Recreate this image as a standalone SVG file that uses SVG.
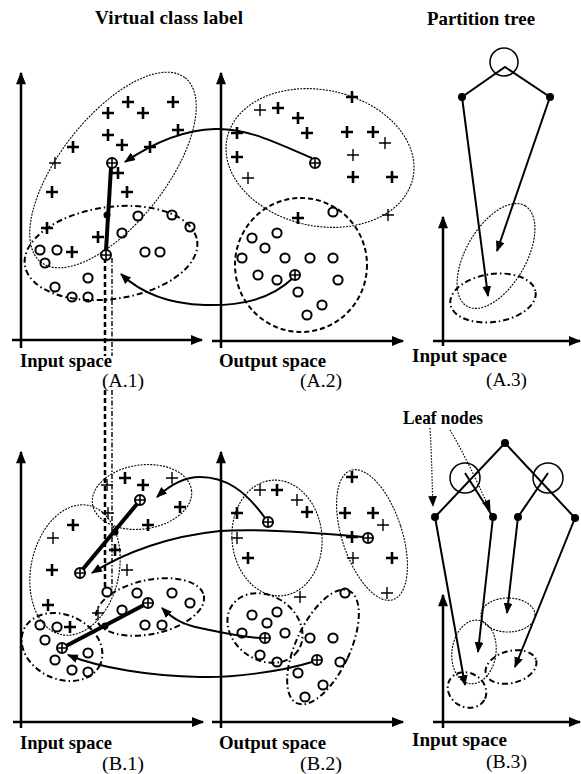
<svg xmlns="http://www.w3.org/2000/svg" xmlns:xlink="http://www.w3.org/1999/xlink" width="581" height="774" viewBox="0 0 581 774">
<style>
.ax{stroke:#000;stroke-width:2.5;fill:none}
.fd{stroke:#000;stroke-width:1.1;fill:none;stroke-dasharray:2 1.2}
.dd{stroke:#000;stroke-width:2;fill:none;stroke-dasharray:6 3 1.5 3}
.da{stroke:#000;stroke-width:2;fill:none;stroke-dasharray:5 3}
.ar{stroke:#000;stroke-width:2;fill:none}
.tk{stroke:#000;stroke-width:4;fill:none}
.dt{stroke:#000;stroke-width:1.2;fill:none;stroke-dasharray:1.5 1.5}
.bt{font-family:"Liberation Serif",serif;font-weight:bold;font-size:19px}
.nt{font-family:"Liberation Serif",serif;font-size:19px}
</style>
<defs>
<marker id="ah" viewBox="0 0 10 8" refX="9" refY="4" markerWidth="11" markerHeight="9" markerUnits="userSpaceOnUse" orient="auto"><path d="M0,0 L10,4 L0,8 z" fill="#000"/></marker>
<marker id="aa" viewBox="0 0 10 8" refX="9" refY="4" markerWidth="13" markerHeight="10" markerUnits="userSpaceOnUse" orient="auto"><path d="M0,0 L10,4 L0,8 z" fill="#000"/></marker>
<g id="p"><path d="M-6,0H6M0,-6V6" stroke="#000" stroke-width="2.6" fill="none"/></g>
<g id="q"><path d="M-6,0H6M0,-6V6" stroke="#000" stroke-width="1.4" fill="none"/></g>
<g id="o"><circle r="4.6" stroke="#000" stroke-width="2" fill="none"/></g>
<g id="x"><circle r="5" stroke="#000" stroke-width="2" fill="#fff"/><path d="M-5,0H5M0,-5V5" stroke="#000" stroke-width="1.6"/></g>
</defs>
<rect width="581" height="774" fill="#fff"/>

<g id="titles">
<text class="bt" x="95" y="24" textLength="148" lengthAdjust="spacing">Virtual class label</text>
<text class="bt" x="427" y="25" textLength="108" lengthAdjust="spacingAndGlyphs">Partition tree</text>
<text class="bt" x="403" y="424" font-size="18" textLength="80" lengthAdjust="spacingAndGlyphs">Leaf nodes</text>
</g>

<g id="axes">
<path class="ax" d="M21,348V73" marker-end="url(#aa)"/><path class="ax" d="M12,340H202" marker-end="url(#aa)"/>
<path class="ax" d="M221,348V73" marker-end="url(#aa)"/><path class="ax" d="M212,341H403" marker-end="url(#aa)"/>
<path class="ax" d="M443,346V217" marker-end="url(#aa)"/><path class="ax" d="M433,341H580" marker-end="url(#aa)"/>
<path class="ax" d="M21,728V452" marker-end="url(#aa)"/><path class="ax" d="M13,722H203" marker-end="url(#aa)"/>
<path class="ax" d="M221,728V452" marker-end="url(#aa)"/><path class="ax" d="M212,722H403" marker-end="url(#aa)"/>
<path class="ax" d="M443,728V595" marker-end="url(#aa)"/><path class="ax" d="M433,722H580" marker-end="url(#aa)"/>
</g>

<g id="labels">
<text class="bt" x="20" y="367" textLength="92" lengthAdjust="spacingAndGlyphs">Input space</text>
<text class="nt" x="102" y="387" textLength="42" lengthAdjust="spacingAndGlyphs">(A.1)</text>
<text class="bt" x="219" y="367" textLength="107" lengthAdjust="spacingAndGlyphs">Output space</text>
<text class="nt" x="300" y="387" textLength="42" lengthAdjust="spacingAndGlyphs">(A.2)</text>
<text class="bt" x="412" y="362" textLength="95" lengthAdjust="spacingAndGlyphs">Input space</text>
<text class="nt" x="486" y="386" textLength="41" lengthAdjust="spacingAndGlyphs">(A.3)</text>
<text class="bt" x="20" y="749" textLength="92" lengthAdjust="spacingAndGlyphs">Input space</text>
<text class="nt" x="102" y="770" textLength="42" lengthAdjust="spacingAndGlyphs">(B.1)</text>
<text class="bt" x="219" y="749" textLength="107" lengthAdjust="spacingAndGlyphs">Output space</text>
<text class="nt" x="300" y="770" textLength="42" lengthAdjust="spacingAndGlyphs">(B.2)</text>
<text class="bt" x="412" y="746" textLength="95" lengthAdjust="spacingAndGlyphs">Input space</text>
<text class="nt" x="486" y="768" textLength="41" lengthAdjust="spacingAndGlyphs">(B.3)</text>
</g>

<g id="ellipses">
<ellipse class="fd" cx="113" cy="170" rx="117" ry="53" transform="rotate(-52 113 170)"/>
<ellipse class="dd" cx="111" cy="253" rx="87" ry="46" transform="rotate(-8 111 253)"/>
<ellipse class="fd" cx="320" cy="158" rx="95" ry="68" transform="rotate(12 320 158)"/>
<ellipse class="da" cx="301" cy="265" rx="66" ry="67"/>
<ellipse class="fd" cx="496" cy="256" rx="58" ry="30" transform="rotate(-60 496 256)"/>
<ellipse class="dd" cx="493" cy="298" rx="43" ry="24" transform="rotate(-8 493 298)"/>
<ellipse class="fd" cx="142" cy="497" rx="50" ry="32" transform="rotate(-8 142 497)"/>
<ellipse class="fd" cx="75" cy="570" rx="44" ry="66" transform="rotate(12 75 570)"/>
<ellipse class="dd" cx="150" cy="607" rx="55" ry="27" transform="rotate(-12 150 607)"/>
<ellipse class="dd" cx="62" cy="647" rx="42" ry="32" transform="rotate(25 62 647)"/>
<ellipse class="fd" cx="277" cy="538" rx="45" ry="58" transform="rotate(-5 277 538)"/>
<ellipse class="fd" cx="372" cy="535" rx="30" ry="68" transform="rotate(-18 372 535)"/>
<ellipse class="dd" cx="265" cy="628" rx="40" ry="32" transform="rotate(35 265 628)"/>
<ellipse class="dd" cx="323" cy="647" rx="27" ry="62" transform="rotate(25 323 647)"/>
<ellipse class="fd" cx="508" cy="615" rx="27" ry="17"/>
<ellipse class="fd" cx="474" cy="652" rx="22" ry="32" transform="rotate(8 474 652)"/>
<ellipse class="dd" cx="511" cy="667" rx="26" ry="16" transform="rotate(-15 511 667)"/>
<ellipse class="dd" cx="467" cy="690" rx="20" ry="17" transform="rotate(30 467 690)"/>
</g>

<g id="points-A1">
<use href="#p" x="128" y="102"/><use href="#p" x="108" y="113"/><use href="#p" x="143" y="113"/><use href="#p" x="173" y="102"/><use href="#p" x="178" y="130"/><use href="#p" x="108" y="135"/><use href="#p" x="122" y="145"/><use href="#p" x="150" y="147"/><use href="#p" x="118" y="173"/><use href="#p" x="127" y="192"/><use href="#p" x="47" y="228"/><use href="#p" x="98" y="237"/><use href="#p" x="72" y="252"/><use href="#p" x="73" y="147"/><use href="#p" x="52" y="192"/>
<use href="#q" x="55" y="163"/>
<use href="#o" x="138" y="216"/><use href="#o" x="172" y="215"/><use href="#o" x="190" y="227"/><use href="#o" x="122" y="233"/><use href="#o" x="145" y="252"/><use href="#o" x="160" y="252"/><use href="#o" x="40" y="250"/><use href="#o" x="57" y="250"/><use href="#o" x="45" y="263"/><use href="#o" x="55" y="287"/><use href="#o" x="88" y="278"/><use href="#o" x="72" y="297"/><use href="#o" x="88" y="297"/>
</g>
<g id="points-A2">
<use href="#p" x="352" y="97"/><use href="#p" x="278" y="108"/><use href="#p" x="298" y="118"/><use href="#p" x="307" y="133"/><use href="#p" x="347" y="132"/><use href="#p" x="373" y="132"/><use href="#p" x="237" y="133"/><use href="#p" x="237" y="157"/><use href="#p" x="353" y="177"/><use href="#p" x="392" y="177"/><use href="#p" x="298" y="218"/>
<use href="#q" x="260" y="110"/><use href="#q" x="385" y="143"/><use href="#q" x="353" y="155"/><use href="#q" x="248" y="178"/><use href="#q" x="388" y="215"/>
<use href="#o" x="333" y="212"/><use href="#o" x="252" y="238"/><use href="#o" x="277" y="233"/><use href="#o" x="265" y="248"/><use href="#o" x="242" y="258"/><use href="#o" x="285" y="258"/><use href="#o" x="310" y="258"/><use href="#o" x="333" y="258"/><use href="#o" x="258" y="275"/><use href="#o" x="277" y="280"/><use href="#o" x="338" y="280"/><use href="#o" x="298" y="292"/><use href="#o" x="322" y="305"/><use href="#o" x="307" y="315"/>
</g>
<g id="points-B1">
<use href="#p" x="125" y="478"/><use href="#p" x="143" y="485"/><use href="#p" x="180" y="507"/><use href="#p" x="148" y="525"/><use href="#p" x="73" y="525"/><use href="#p" x="115" y="550"/><use href="#p" x="52" y="570"/><use href="#p" x="48" y="605"/><use href="#p" x="70" y="627"/>
<use href="#q" x="107" y="485"/><use href="#q" x="172" y="478"/><use href="#q" x="108" y="513"/><use href="#q" x="53" y="538"/><use href="#q" x="127" y="570"/><use href="#q" x="98" y="613"/>
<use href="#o" x="107" y="592"/><use href="#o" x="137" y="593"/><use href="#o" x="172" y="593"/><use href="#o" x="190" y="603"/><use href="#o" x="122" y="610"/><use href="#o" x="145" y="625"/><use href="#o" x="162" y="625"/><use href="#o" x="40" y="625"/><use href="#o" x="57" y="627"/><use href="#o" x="45" y="640"/><use href="#o" x="55" y="660"/><use href="#o" x="88" y="653"/><use href="#o" x="72" y="670"/><use href="#o" x="88" y="672"/>
</g>
<g id="points-B2">
<use href="#p" x="277" y="490"/><use href="#p" x="307" y="512"/><use href="#p" x="237" y="513"/><use href="#p" x="352" y="477"/><use href="#p" x="345" y="513"/><use href="#p" x="373" y="513"/><use href="#p" x="352" y="537"/><use href="#p" x="248" y="558"/><use href="#p" x="392" y="558"/>
<use href="#q" x="260" y="490"/><use href="#q" x="297" y="500"/><use href="#q" x="383" y="525"/><use href="#q" x="237" y="538"/><use href="#q" x="353" y="558"/><use href="#q" x="300" y="597"/><use href="#q" x="387" y="593"/>
<use href="#o" x="345" y="593"/><use href="#o" x="252" y="615"/><use href="#o" x="277" y="612"/><use href="#o" x="267" y="623"/><use href="#o" x="242" y="633"/><use href="#o" x="285" y="633"/><use href="#o" x="310" y="638"/><use href="#o" x="333" y="638"/><use href="#o" x="260" y="655"/><use href="#o" x="277" y="662"/><use href="#o" x="340" y="662"/><use href="#o" x="298" y="673"/><use href="#o" x="323" y="685"/><use href="#o" x="305" y="697"/>
</g>

<g id="connectors">
<path d="M105,258V356M105,390V588" stroke="#000" stroke-width="2.5" stroke-dasharray="5 3" fill="none"/>
<path d="M112,258V356M112,390V590" stroke="#000" stroke-width="1.4" stroke-dasharray="5 2 1.5 2" fill="none"/>
<path class="tk" d="M111,168L106,250"/><circle cx="107" cy="215" r="3.5"/>
<path class="ar" d="M312,158C280,145 250,128 215,129C180,130 150,145 125,162" marker-end="url(#ah)"/>
<path class="ar" d="M293,278C270,300 240,306 205,305C170,304 142,294 121,274" marker-end="url(#ah)"/>
<path class="tk" d="M137,504L83,569"/><circle cx="115" cy="532" r="3.5"/>
<path class="tk" d="M144,605L66,646"/><circle cx="105" cy="626" r="3.5"/>
<path class="ar" d="M265,518C245,490 225,477 200,477C185,477 170,485 157,497" marker-end="url(#ah)"/>
<path class="ar" d="M363,537C320,533 260,528 220,531C170,536 125,552 92,573" marker-end="url(#ah)"/>
<path class="ar" d="M260,638C240,637 220,632 200,628C185,625 174,620 162,608" marker-end="url(#ah)"/>
<path class="ar" d="M312,662C280,672 230,678 200,677C150,676 100,668 68,655" marker-end="url(#ah)"/>
</g>

<g id="tree-A3">
<circle cx="504" cy="62" r="14" stroke="#000" stroke-width="1.5" fill="none"/>
<path d="M462,97L505,67L550,97" stroke="#000" stroke-width="2" fill="none"/>
<circle cx="462" cy="97" r="4"/><circle cx="550" cy="97" r="4"/>
<path class="ar" d="M462,97L488,296" marker-end="url(#ah)"/>
<path class="ar" d="M550,97L497,251" marker-end="url(#ah)"/>
</g>

<g id="tree-B3">
<circle cx="465" cy="478" r="15" stroke="#000" stroke-width="1.5" fill="none"/>
<circle cx="548" cy="478" r="15" stroke="#000" stroke-width="1.5" fill="none"/>
<path d="M435,517L505,443L575,518M465,473L493,517M548,473L518,517" stroke="#000" stroke-width="2" fill="none"/>
<circle cx="505" cy="443" r="4"/><circle cx="435" cy="517" r="4"/><circle cx="493" cy="517" r="4"/><circle cx="518" cy="517" r="4"/><circle cx="575" cy="518" r="4"/>
<path class="ar" d="M435,517L465,685" marker-end="url(#ah)"/>
<path class="ar" d="M493,517L478,652" marker-end="url(#ah)"/>
<path class="ar" d="M518,517L507,613" marker-end="url(#ah)"/>
<path class="ar" d="M575,518L515,667" marker-end="url(#ah)"/>
<path class="dt" d="M430,428C432,460 432,485 433,506" marker-end="url(#ah)"/>
<path class="dt" d="M450,430C465,455 480,488 490,510" marker-end="url(#ah)"/>
</g>

<g id="oplus">
<use href="#x" x="112" y="163"/><use href="#x" x="106" y="255"/>
<use href="#x" x="315" y="163"/><use href="#x" x="295" y="275"/>
<use href="#x" x="140" y="500"/><use href="#x" x="80" y="573"/><use href="#x" x="148" y="603"/><use href="#x" x="62" y="648"/>
<use href="#x" x="268" y="522"/><use href="#x" x="368" y="538"/><use href="#x" x="265" y="638"/><use href="#x" x="317" y="660"/>
</g>
</svg>
